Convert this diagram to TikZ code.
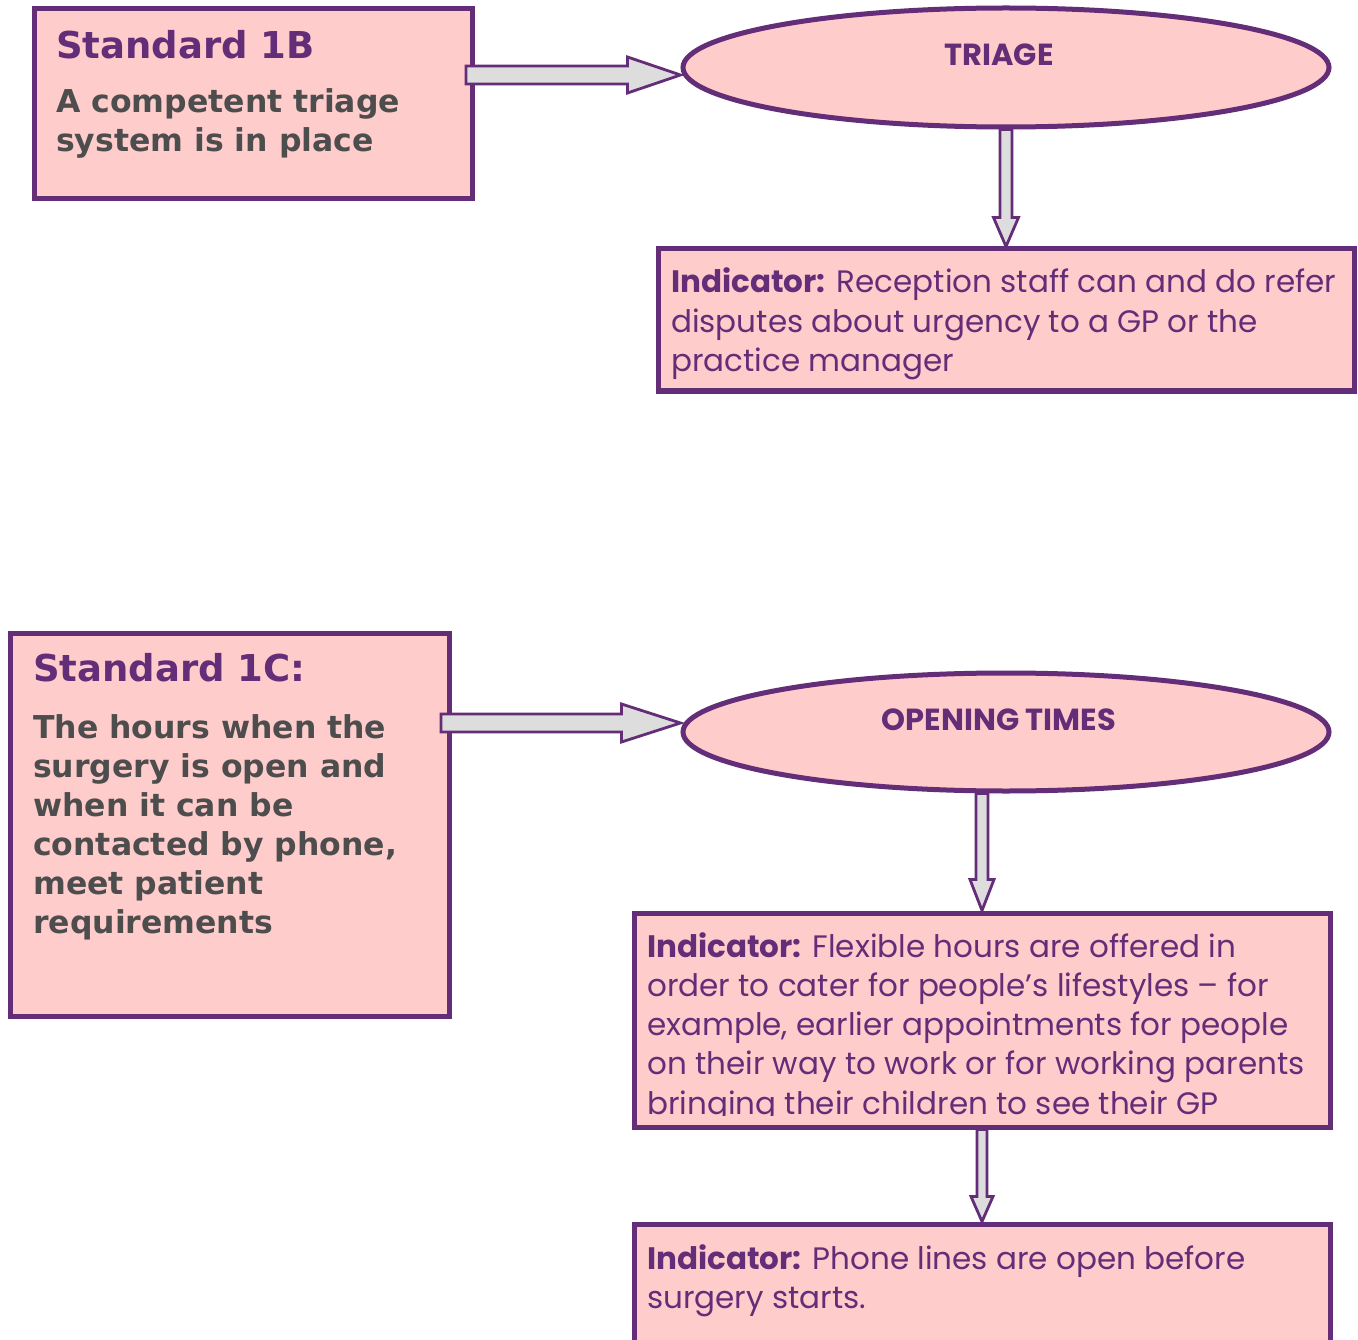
\documentclass[tikz,border=0pt]{standalone}
\usepackage{fontspec}
\usetikzlibrary{calc,shapes.geometric}
\newfontfamily\stdfont{DejaVu Sans}
\newfontfamily\indfont{Poppins}
\definecolor{frame}{RGB}{99,45,120}
\definecolor{boxfill}{RGB}{255,204,204}
\definecolor{bodygray}{RGB}{77,77,77}
\definecolor{arrowfill}{RGB}{221,221,221}

% block arrow pointing right: from, to, half shaft, half head, head length
\newcommand\rblockarrow[5]{%
  \path[blockarrow] let \p1=(#1), \p2=(#2) in
    (\x1,{\y1+#3}) -- ({\x2-#5},{\y1+#3}) -- ({\x2-#5},{\y1+#4}) -- (\x2,\y1)
    -- ({\x2-#5},{\y1-#4}) -- ({\x2-#5},{\y1-#3}) -- (\x1,{\y1-#3}) -- cycle;}
% block arrow pointing down: from, to, half shaft, half head, head length
\newcommand\dblockarrow[5]{%
  \path[blockarrow] let \p1=(#1), \p2=(#2) in
    ({\x1-#3},\y1) -- ({\x1-#3},{\y2+#5}) -- ({\x1-#4},{\y2+#5}) -- (\x1,\y2)
    -- ({\x1+#4},{\y2+#5}) -- ({\x1+#3},{\y2+#5}) -- ({\x1+#3},\y1) -- cycle;}

\tikzset{
  panel/.style={draw=frame, fill=boxfill, line width=5pt, rectangle, inner sep=0pt},
  oval/.style={draw=frame, fill=boxfill, line width=5pt, ellipse, inner sep=0pt},
  blockarrow/.style={draw=frame, fill=arrowfill, line width=2.8pt, line join=miter},
  stdtitle/.style={anchor=base west, inner sep=0pt, text=frame, font=\stdfont\bfseries\fontsize{37}{39}\selectfont},
  stdbody/.style={anchor=base west, inner sep=0pt, text=bodygray, font=\stdfont\bfseries\fontsize{31.5}{39}\selectfont},
  indtext/.style={anchor=base west, inner sep=0pt, text=frame, font=\indfont\fontsize{31}{39.3}\selectfont},
  ovaltext/.style={anchor=base, inner sep=0pt, text=frame, font=\indfont\bfseries\fontsize{30.5}{32}\selectfont},
}

\begin{document}
\begin{tikzpicture}[x=1pt,y=-1pt]
\useasboundingbox (0,0) rectangle (1358,1340);
\fill[white] (0,0) rectangle (1358,1340);

% ---- Standard 1B ----
\node[panel, minimum width=438pt, minimum height=190pt] (s1b) at (253,104) {};
\node[stdtitle] (s1bt) at (56,59) {Standard 1B};
\node[stdbody] (s1bb) at (56,113) {\parbox[t]{400pt}{\raggedright A competent triage\\system is in place}};

\node[oval, minimum width=646pt, minimum height=119pt] (triage) at (1006,67.5) {};
\node[ovaltext] (triaget) at (999,66) {TRIAGE};

\node[panel, minimum width=696pt, minimum height=142pt] (ind1) at (1006,320) {};
\node[indtext] (ind1t) at (671,293) {\parbox[t]{690pt}{\raggedright\textbf{Indicator:} Reception staff can and do refer\\disputes about urgency to a GP or the\\practice manager}};

\coordinate (a1s) at (466,75);
\rblockarrow{a1s}{a1s -| triage.west}{9pt}{18pt}{53pt}
\dblockarrow{triage.south}{ind1.north}{6pt}{12.5pt}{29pt}

% ---- Standard 1C ----
\node[panel, minimum width=439pt, minimum height=383pt] (s1c) at (229.5,824.5) {};
\node[stdtitle] (s1ct) at (33,681) {Standard 1C:};
\node[stdbody] (s1cb) at (33,738) {\parbox[t]{420pt}{\raggedright The hours when the\\surgery is open and\\when it can be\\contacted by phone,\\meet patient\\requirements}};

\node[oval, minimum width=646pt, minimum height=118pt] (open) at (1006,732) {};
\node[ovaltext] (opent) at (999,730) {OPENING TIMES};

\node[panel, minimum width=696pt, minimum height=214pt] (ind2) at (982,1020) {};
\begin{scope}
  \clip (634,913) rectangle (1330,1115);
  \node[indtext] (ind2t) at (647,957) {\parbox[t]{690pt}{\raggedright\textbf{Indicator:} Flexible hours are offered in\\order to cater for people’s lifestyles – for\\example, earlier appointments for people\\on their way to work or for working parents\\bringing their children to see their GP}};
\end{scope}

\node[panel, minimum width=696pt, minimum height=136pt] (ind3) at (982,1292) {};
\node[indtext] (ind3t) at (647,1269) {\parbox[t]{690pt}{\raggedright\textbf{Indicator:} Phone lines are open before\\surgery starts.}};

\coordinate (a3s) at (441,723);
\rblockarrow{a3s}{a3s -| open.west}{9pt}{19pt}{59pt}
\dblockarrow{ind2.north |- open.south}{ind2.north}{6pt}{12pt}{31pt}
\dblockarrow{ind2.south}{ind3.north}{5pt}{11pt}{25pt}
\end{tikzpicture}
\end{document}
